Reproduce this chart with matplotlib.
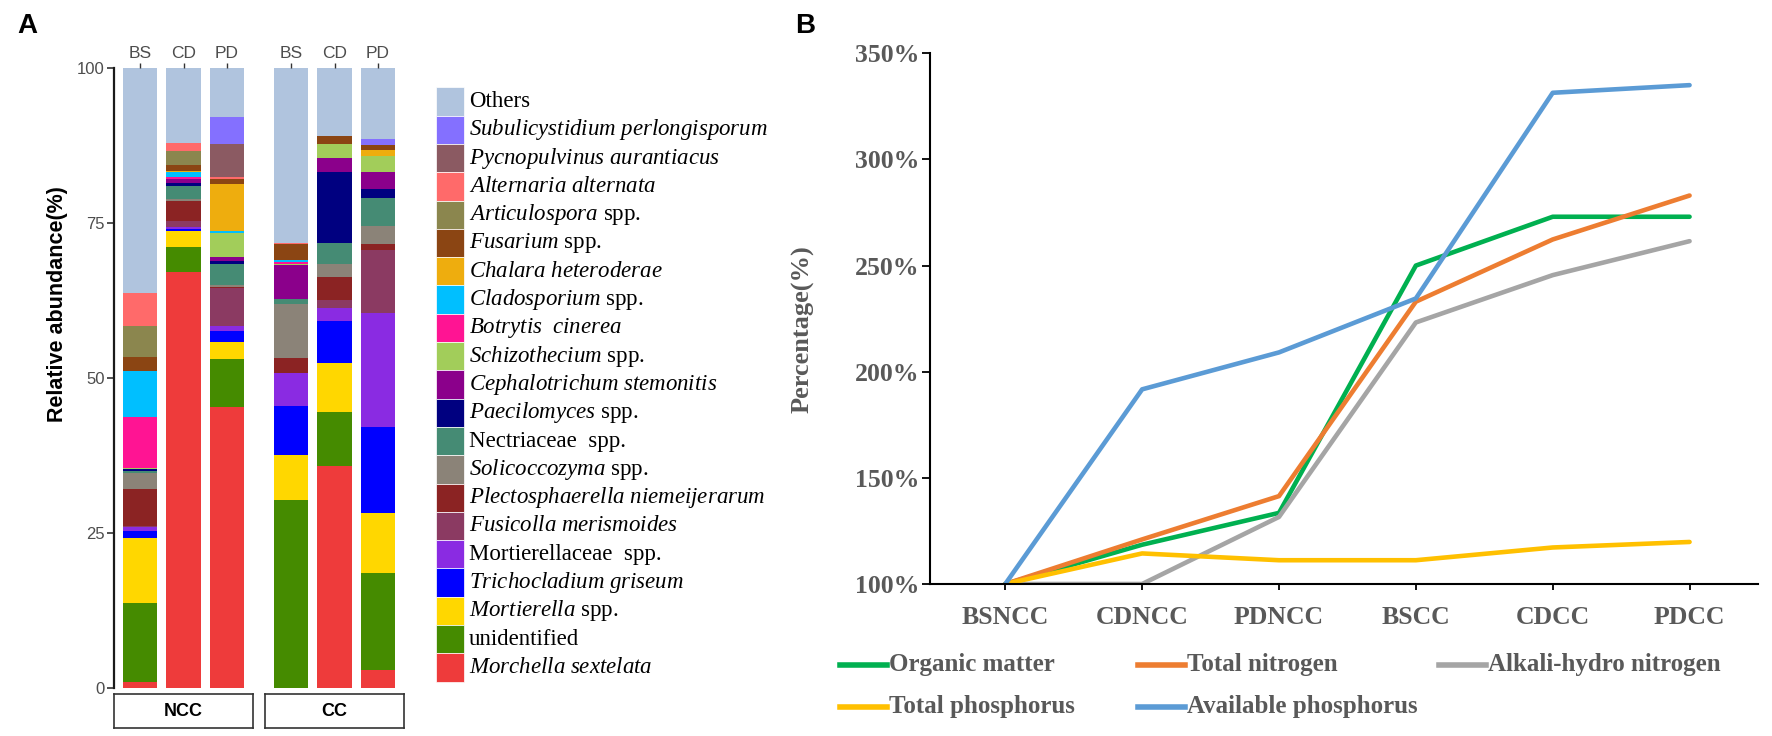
import numpy as np
import matplotlib
matplotlib.use('Agg')
import matplotlib.pyplot as plt
from matplotlib.patches import Rectangle
from matplotlib.lines import Line2D

plt.rcParams['mathtext.fontset'] = 'custom'
plt.rcParams['mathtext.it'] = 'Liberation Serif:italic'
plt.rcParams['mathtext.rm'] = 'Liberation Serif'

W, H = 1772, 736

# ---------------- Panel A data (relative abundance, %) ----------------
samples = ['BS', 'CD', 'PD']
groups = ['NCC', 'CC']
# columns: BS-NCC, CD-NCC, PD-NCC, BS-CC, CD-CC, PD-CC
morchella = [1.0, 67.2, 45.4, 0.0, 35.9, 2.9]
unidentified = [12.8, 4.0, 7.7, 30.3, 8.7, 15.7]
mortierella = [10.5, 2.6, 2.8, 7.4, 7.8, 9.7]
trichocladium = [1.0, 0.3, 1.7, 7.8, 6.9, 13.9]
mortierellaceae = [0.7, 0.3, 0.8, 5.4, 2.1, 18.3]
fusicolla = [0.1, 1.0, 6.1, 0.0, 1.2, 10.2]
plectosphaerella = [6.0, 3.2, 0.3, 2.4, 3.8, 1.0]
solicoccozyma = [2.6, 0.3, 0.3, 8.7, 2.1, 2.9]
nectriaceae = [0.3, 2.1, 3.3, 0.8, 3.4, 4.4]
paecilomyces = [0.3, 0.5, 0.6, 0.0, 11.4, 1.5]
cephalotrichum = [0.1, 0.6, 0.5, 5.4, 2.3, 2.8]
schizothecium = [0.1, 0.0, 4.0, 0.2, 2.2, 2.6]
botrytis = [8.3, 0.4, 0.0, 0.3, 0.0, 0.0]
cladosporium = [7.4, 0.8, 0.3, 0.4, 0.0, 0.0]
chalara = [0.0, 0.2, 7.5, 0.0, 0.0, 0.9]
fusarium = [2.2, 0.9, 0.9, 2.6, 1.3, 0.9]
articulospora = [5.0, 2.2, 0.0, 0.0, 0.0, 0.0]
alternaria = [5.3, 1.3, 0.2, 0.2, 0.0, 0.0]
pycnopulvinus = [0.0, 0.0, 5.4, 0.0, 0.0, 0.0]
subulicystidium = [0.0, 0.0, 4.3, 0.0, 0.0, 0.9]
others = [36.3, 12.1, 7.9, 28.1, 10.9, 11.4]

# stacking order, bottom to top
taxa = [
    (r'$\mathit{Morchella\ sextelata}$', '#EE3B3B', morchella),
    ('unidentified', '#458B00', unidentified),
    (r'$\mathit{Mortierella}$ spp.', '#FFD700', mortierella),
    (r'$\mathit{Trichocladium\ griseum}$', '#0000FF', trichocladium),
    ('Mortierellaceae  spp.', '#8A2BE2', mortierellaceae),
    (r'$\mathit{Fusicolla\ merismoides}$', '#8B3A62', fusicolla),
    (r'$\mathit{Plectosphaerella\ niemeijerarum}$', '#8B2323', plectosphaerella),
    (r'$\mathit{Solicoccozyma}$ spp.', '#8B8378', solicoccozyma),
    ('Nectriaceae  spp.', '#458B74', nectriaceae),
    (r'$\mathit{Paecilomyces}$ spp.', '#000080', paecilomyces),
    (r'$\mathit{Cephalotrichum\ stemonitis}$', '#8B008B', cephalotrichum),
    (r'$\mathit{Schizothecium}$ spp.', '#A2CD5A', schizothecium),
    (r'$\mathit{Botrytis\ \ cinerea}$', '#FF1493', botrytis),
    (r'$\mathit{Cladosporium}$ spp.', '#00BFFF', cladosporium),
    (r'$\mathit{Chalara\ heteroderae}$', '#EEAD0E', chalara),
    (r'$\mathit{Fusarium}$ spp.', '#8B4513', fusarium),
    (r'$\mathit{Articulospora}$ spp.', '#8B864E', articulospora),
    (r'$\mathit{Alternaria\ alternata}$', '#FF6A6A', alternaria),
    (r'$\mathit{Pycnopulvinus\ aurantiacus}$', '#8B5A62', pycnopulvinus),
    (r'$\mathit{Subulicystidium\ perlongisporum}$', '#8470FF', subulicystidium),
    ('Others', '#B0C4DE', others),
]

# ---------------- Panel B data (% of BSNCC) ----------------
sites = ['BSNCC', 'CDNCC', 'PDNCC', 'BSCC', 'CDCC', 'PDCC']
organic_matter = [100, 118.5, 133.5, 250, 273, 273]
total_nitrogen = [100, 121, 141.4, 233, 262.3, 283]
alkali_nitrogen = [100, 100, 131.6, 223.2, 245.5, 261.5]
total_phosphorus = [100, 114.4, 111.2, 111.2, 117.2, 119.8]
available_phosphorus = [100, 191.7, 209.1, 234.5, 331.4, 335]

series = [
    ('Organic matter', '#00B050', organic_matter),
    ('Total nitrogen', '#ED7D31', total_nitrogen),
    ('Alkali-hydro nitrogen', '#A5A5A5', alkali_nitrogen),
    ('Total phosphorus', '#FFC000', total_phosphorus),
    ('Available phosphorus', '#5B9BD5', available_phosphorus),
]


def box(x0, y0, x1, y1):
    return [x0 / W, 1 - y1 / H, (x1 - x0) / W, (y1 - y0) / H]


fig = plt.figure(figsize=(W / 100, H / 100), dpi=100)

# ---------------- Panel A ----------------
sans = 'Liberation Sans'
serif = 'Liberation Serif'
facet_x = [(114, 253), (265, 404)]
for g, (gx0, gx1) in enumerate(facet_x):
    ax = fig.add_axes(box(gx0, 68.3, gx1, 688.3))
    pos = np.arange(1, 4)
    bottom = np.zeros(3)
    for name, col, vals in taxa:
        v = np.array(vals[g * 3:(g + 1) * 3])
        ax.bar(pos, v, bottom=bottom, width=0.8, color=col, linewidth=0)
        bottom += v
    ax.set_xlim(0.4, 3.6)
    ax.set_ylim(0, 100)
    ax.xaxis.tick_top()
    ax.set_xticks(pos)
    ax.set_xticklabels(samples, fontsize=12.5, color='#4D4D4D', family=sans)
    ax.tick_params(axis='x', length=3.5, width=1, color='#333333', pad=2)
    for s in ['top', 'right', 'bottom']:
        ax.spines[s].set_visible(False)
    if g == 0:
        ax.spines['left'].set_linewidth(1.6)
        ax.spines['left'].set_color('#1A1A1A')
        ax.set_yticks([0, 25, 50, 75, 100])
        ax.set_yticklabels(['0', '25', '50', '75', '100'], fontsize=12, color='#4D4D4D', family=sans)
        ax.tick_params(axis='y', length=5, width=1.2, color='#333333', pad=1.5)
        ax.set_ylabel('Relative abundance(%)', fontsize=15.5, fontweight='bold', family=sans)
        ax.yaxis.set_label_coords(-0.33, 0.62)
    else:
        ax.spines['left'].set_visible(False)
        ax.set_yticks([])

    # strip box at the bottom
    sx = fig.add_axes(box(gx0, 694, gx1, 728))
    sx.set_xticks([])
    sx.set_yticks([])
    for s in sx.spines.values():
        s.set_linewidth(1.2)
        s.set_color('#333333')
    sx.text(0.5, 0.5, groups[g], ha='center', va='center', fontsize=13,
            fontweight='bold', family=sans, transform=sx.transAxes)

# legend of panel A (top entry = last taxon)
key_h = 28.3
for i, (name, col, vals) in enumerate(taxa[::-1]):
    y0 = 87.3 + i * key_h
    fig.add_artist(Rectangle((436 / W, 1 - (y0 + key_h) / H), 28 / W, key_h / H,
                             transform=fig.transFigure, facecolor=col,
                             edgecolor='white', linewidth=0.5))
    fig.text(469 / W, 1 - (y0 + key_h / 2) / H, name, ha='left', va='center',
             fontsize=16.5, family=serif)

fig.text(17 / W, 1 - 33 / H, 'A', fontsize=20, fontweight='bold', family=sans,
         ha='left', va='baseline')

# ---------------- Panel B ----------------
ax2 = fig.add_axes(box(930, 53.3, 1758, 584))
x = np.arange(len(sites))
for name, col, vals in series:
    ax2.plot(x, vals, color=col, linewidth=3.3, solid_capstyle='round', label=name)
ax2.set_xlim(-0.55, 5.5)
ax2.set_ylim(100, 350)
ax2.set_yticks([100, 150, 200, 250, 300, 350])
ax2.set_yticklabels([f'{t}%' for t in [100, 150, 200, 250, 300, 350]])
ax2.set_xticks(x)
ax2.set_xticklabels(sites)
for lab in ax2.get_xticklabels() + ax2.get_yticklabels():
    lab.set_family(serif)
    lab.set_fontweight('bold')
    lab.set_fontsize(18.5)
    lab.set_color('#595959')
ax2.tick_params(axis='y', length=6, width=1.3, pad=2)
ax2.tick_params(axis='x', length=4, width=1.3, pad=12)
for s in ['top', 'right']:
    ax2.spines[s].set_visible(False)
for s in ['left', 'bottom']:
    ax2.spines[s].set_linewidth(1.5)
ax2.set_ylabel('Percentage(%)', fontsize=19, fontweight='bold', family=serif, color='#595959')
ax2.yaxis.set_label_coords(-0.14, 0.48)

# legend of panel B, laid out row by row
leg_pos = [(840, 665), (1138, 665), (1439, 665), (840, 707), (1138, 707)]
for (name, col, vals), (lx, ly) in zip(series, leg_pos):
    fig.add_artist(Line2D([lx / W, (lx + 47) / W], [1 - ly / H, 1 - ly / H],
                          transform=fig.transFigure, color=col, linewidth=4))
    fig.text((lx + 49) / W, 1 - ly / H, name, ha='left', va='center', fontsize=18,
             fontweight='bold', family=serif, color='#595959')

fig.text(795 / W, 1 - 33 / H, 'B', fontsize=20, fontweight='bold', family=sans,
         ha='left', va='baseline')

fig.savefig('out.png', dpi=100)
